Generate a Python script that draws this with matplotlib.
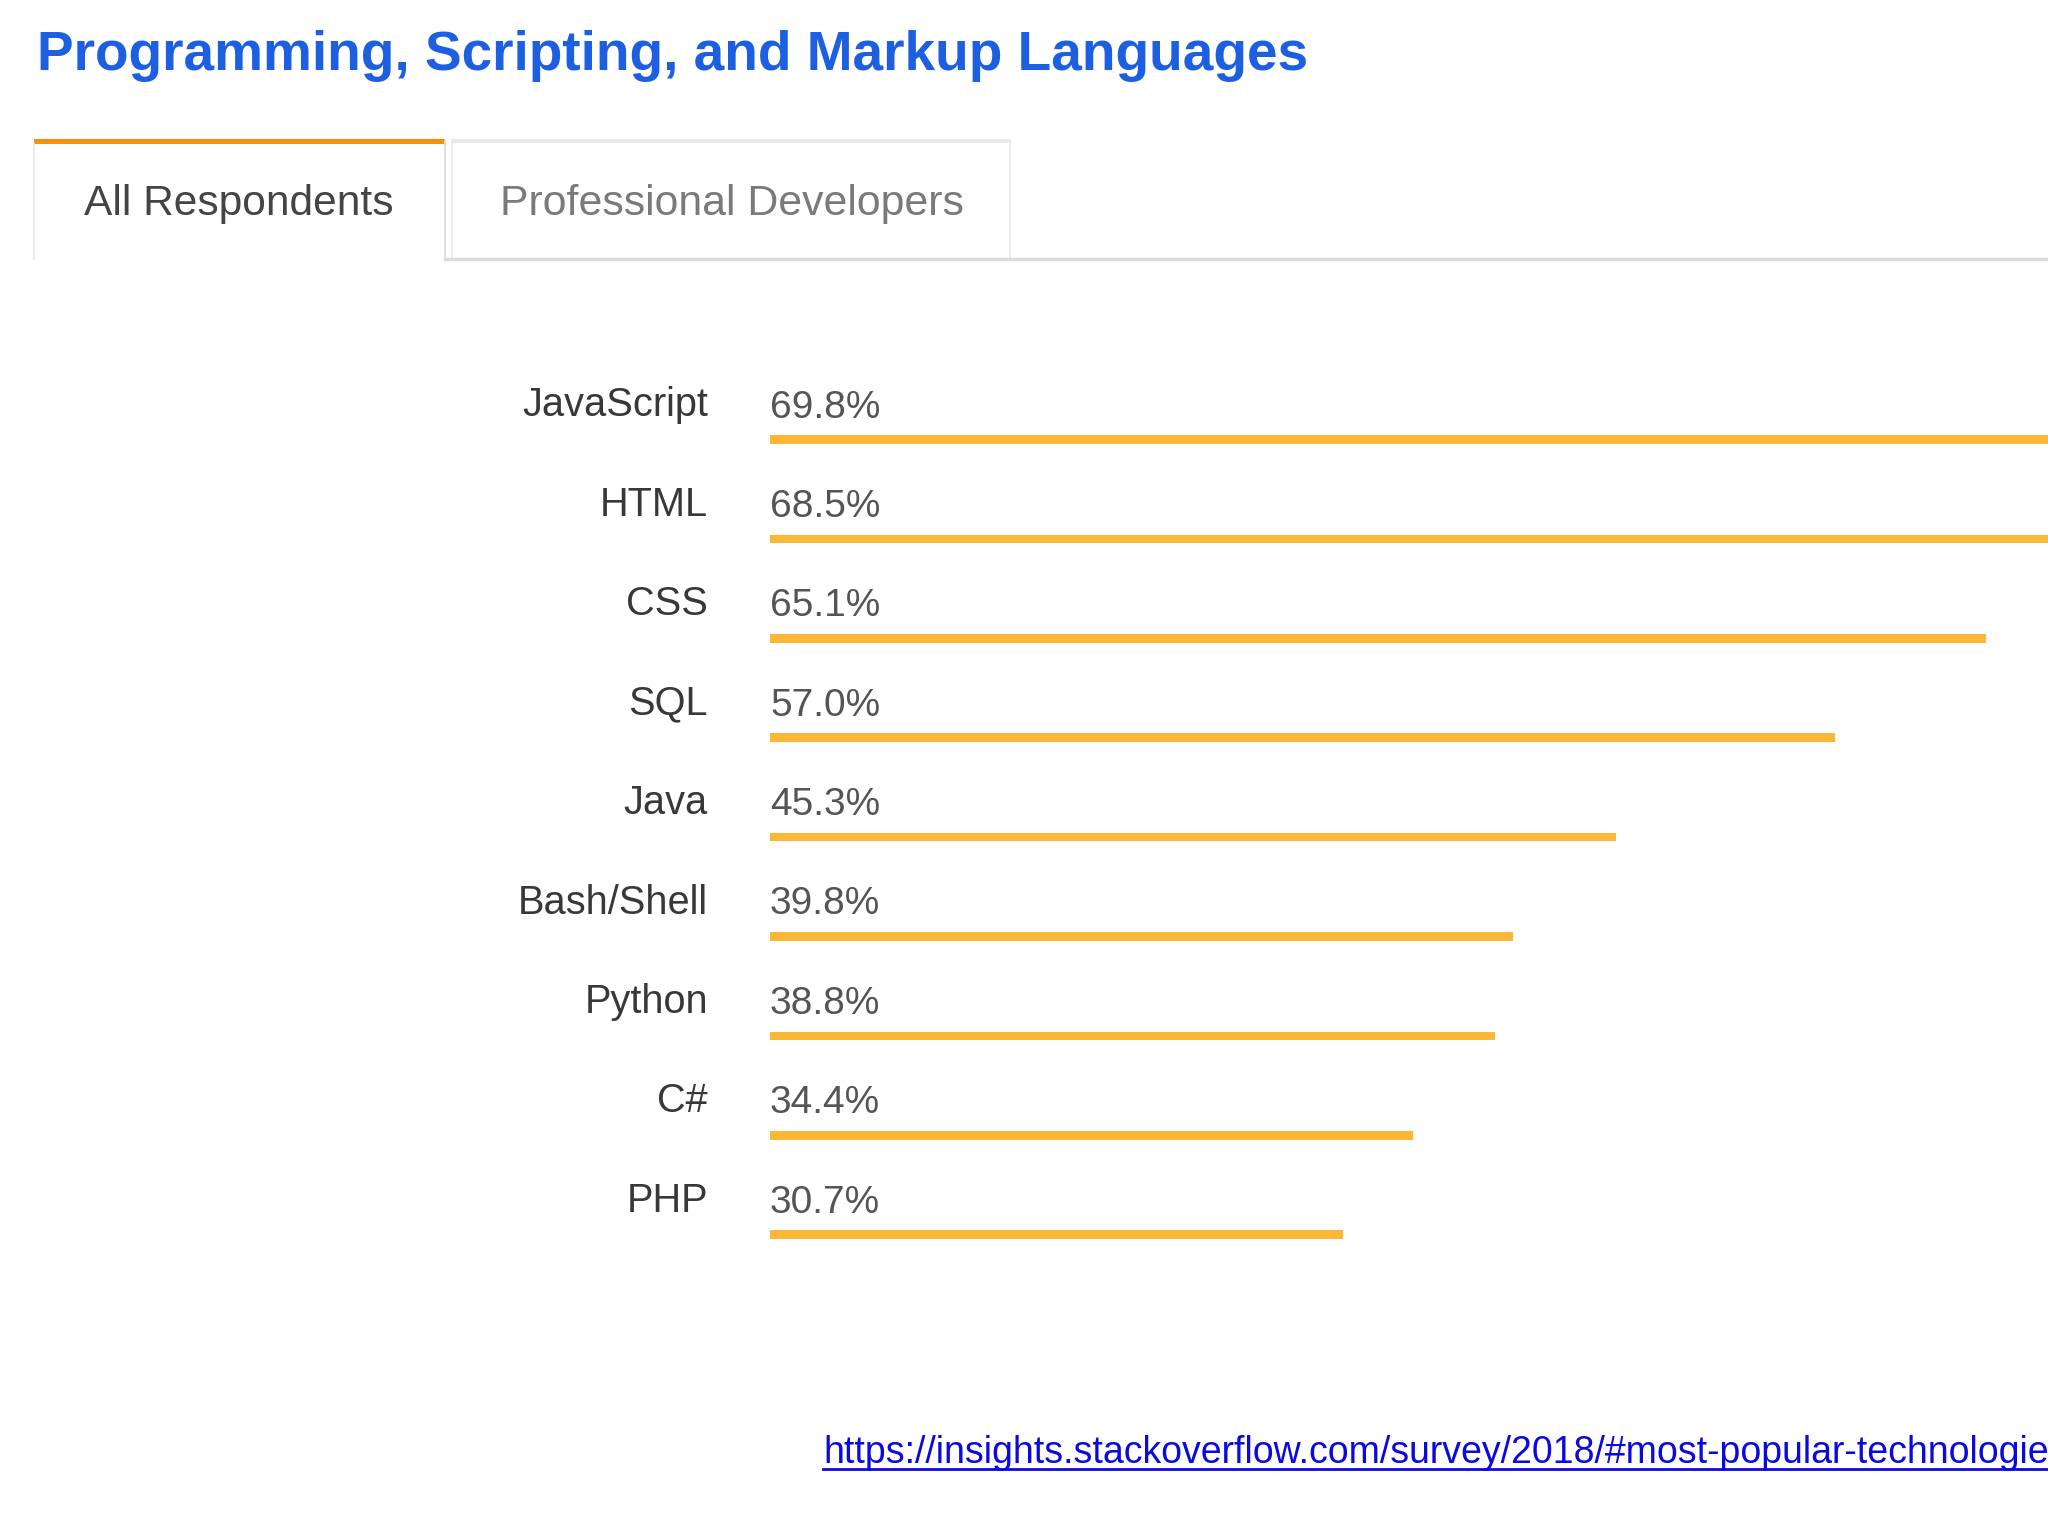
import matplotlib.pyplot as plt
from matplotlib.patches import Rectangle

# data
languages = ["JavaScript", "HTML", "CSS", "SQL", "Java", "Bash/Shell", "Python", "C#", "PHP"]
shares = [69.8, 68.5, 65.1, 57.0, 45.3, 39.8, 38.8, 34.4, 30.7]
title = "Programming, Scripting, and Markup Languages"
tabs = ["All Respondents", "Professional Developers"]
source_url = "https://insights.stackoverflow.com/survey/2018/#most-popular-technologies"

W, H = 2048, 1536
BAR = "#fcb737"
FONT = ["Liberation Sans", "DejaVu Sans"]
plt.rcParams["font.family"] = FONT

fig = plt.figure(figsize=(W / 100, H / 100), dpi=100)
fig.patch.set_facecolor("white")

# background axes in pixel coords for the page decoration (tabs, title, link)
bg = fig.add_axes([0, 0, 1, 1], zorder=0)
bg.set_xlim(0, W)
bg.set_ylim(H, 0)
bg.axis("off")

bg.text(37, 70, title, fontsize=39.6, fontweight="bold", color="#1c5fe0",
        ha="left", va="baseline")

# tabs
bg.add_patch(Rectangle((34, 139), 411, 5, color="#f4900c", lw=0))
bg.plot([34, 34], [144, 259], color="#ebebeb", lw=1.5)
bg.plot([445, 445], [141, 259], color="#dedede", lw=1.5)
bg.add_patch(Rectangle((451, 139), 559, 4, color="#e9e9e9", lw=0))
bg.plot([452, 452], [143, 259], color="#ededed", lw=1.5)
bg.plot([1010, 1010], [140, 259], color="#eeeeee", lw=1.5)
bg.plot([445, W], [259, 259], color="#dcdcdc", lw=2.5)
bg.text(84, 215, tabs[0], fontsize=30.6, color="#444444", ha="left", va="baseline")
bg.text(500, 215, tabs[1], fontsize=30.8, color="#7a7a7a", ha="left", va="baseline")

# link with underline
bg.text(823, 1463, source_url, fontsize=27, color="#0a0ae0", ha="left", va="baseline")
bg.plot([823, W], [1469, 1469], color="#0a0ae0", lw=2)

# bar chart
top_px, step_px, left_px = 439.5, 99.4, 770
ax = fig.add_axes([left_px / W, 1 - (top_px - step_px + 10 * step_px) / H,
                   1 - left_px / W, 10 * step_px / H], zorder=1)
ax.set_facecolor("none")
ax.set_xlim(0, (W - left_px) / 18.68)
ax.set_ylim(9, -1)
ax.axis("off")

ypos = list(range(len(languages)))
ax.barh(ypos, shares, height=0.085, color=BAR, left=0)

for i, (lang, v) in enumerate(zip(languages, shares)):
    ax.annotate(lang, xy=(0, i), xytext=(-62, 23), textcoords="offset pixels",
                fontsize=28.6, color="#383838", ha="right", va="baseline",
                annotation_clip=False)
    ax.annotate(f"{v:.1f}%", xy=(0, i), xytext=(0, 22), textcoords="offset pixels",
                fontsize=28, color="#555555", ha="left", va="baseline",
                annotation_clip=False)

fig.savefig("out.png", dpi=100)
